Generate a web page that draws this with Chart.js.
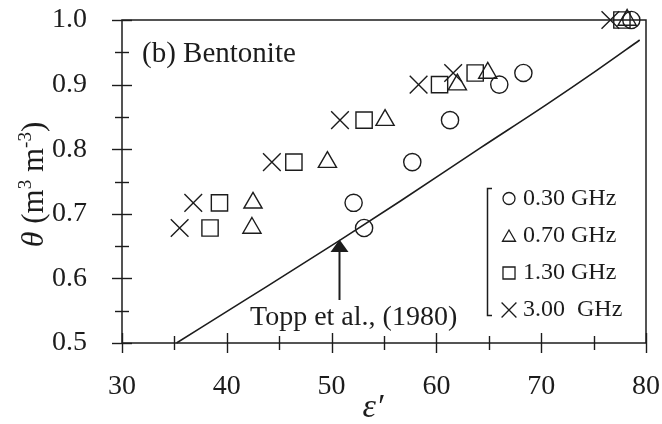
<!DOCTYPE html>
<html>
<head>
<meta charset="utf-8">
<script src="https://cdn.jsdelivr.net/npm/chart.js@4/dist/chart.umd.min.js"></script>
<style>
html,body{margin:0;padding:0;background:#fff;}
#wrap{width:662px;height:424px;position:relative;}
</style>
</head>
<body>
<div id="wrap"><canvas id="c" width="662" height="424"></canvas></div>
<script>
// ---- data ----
const seriesLabels = ['0.30 GHz', '0.70 GHz', '1.30 GHz', '3.00  GHz'];
const theta = [0.678, 0.717, 0.780, 0.845, 0.900, 0.918, 1.000];
const eps030 = [53.1, 52.1, 57.7, 61.3, 66.0, 68.3, 78.6];
const eps070 = [42.4, 42.5, 49.6, 55.1, 62.0, 64.9, 78.2];
const eps130 = [38.4, 39.3, 46.4, 53.1, 60.3, 63.7, 77.7];
const eps300 = [35.5, 36.8, 44.3, 50.8, 58.3, 61.6, 76.6];
const toppEps = [35.2, 42.0, 50.7, 56.5, 64.2, 70.5, 75.3, 79.4];
const toppTheta = [0.500, 0.569, 0.658, 0.719, 0.802, 0.869, 0.922, 0.969];
const xTicks = [30, 40, 50, 60, 70, 80];
const yTicks = [0.5, 0.6, 0.7, 0.8, 0.9, 1.0];
const panelTitle = '(b) Bentonite';
const toppLabel = 'Topp et al., (1980)';

const INK = '#1c1c1c';
const SERIF = '"Liberation Serif", "DejaVu Serif", serif';

function pts(xs, ys) { return xs.map((x, i) => ({x: x, y: ys[i]})); }

const styles = [
  {pointStyle: 'circle', radius: 8.6, lr: 6},
  {pointStyle: 'triangle', radius: 10.5, lr: 7.5},
  {pointStyle: 'rect', radius: 11.5, lr: 8.5},
  {pointStyle: 'crossRot', radius: 12.5, lr: 10.5}
];
const epsSeries = [eps030, eps070, eps130, eps300];

const datasets = epsSeries.map((e, i) => ({
  type: 'scatter',
  label: seriesLabels[i],
  data: pts(e, theta),
  pointStyle: styles[i].pointStyle,
  pointRadius: styles[i].radius,
  pointHoverRadius: styles[i].radius,
  pointBorderWidth: 1.4,
  pointBorderColor: INK,
  pointBackgroundColor: 'rgba(0,0,0,0)',
  showLine: false,
  clip: false
}));
datasets.push({
  type: 'line',
  label: toppLabel,
  data: pts(toppEps, toppTheta),
  borderColor: INK,
  borderWidth: 1.6,
  pointRadius: 0,
  cubicInterpolationMode: 'monotone',
  fill: false,
  clip: false
});

const decor = {
  id: 'decor',
  afterDraw(chart) {
    const ctx = chart.ctx;
    const a = chart.chartArea;
    const xs = chart.scales.x, ys = chart.scales.y;
    ctx.save();
    ctx.strokeStyle = INK;
    ctx.fillStyle = INK;
    // frame
    ctx.lineWidth = 1.5;
    ctx.strokeRect(a.left, a.top, a.right - a.left, a.bottom - a.top);
    // x ticks (major every 10, minor every 5), crossing the axis
    ctx.lineWidth = 1.4;
    for (let v = 30; v <= 80; v += 5) {
      const px = Math.round(xs.getPixelForValue(v)) + 0.5;
      const major = v % 10 === 0;
      const L = major ? 10 : 7;
      ctx.beginPath();
      ctx.moveTo(px, a.bottom - L);
      ctx.lineTo(px, a.bottom + L);
      ctx.stroke();
    }
    // y ticks
    for (let k = 0; k <= 10; k++) {
      const v = 0.5 + k * 0.05;
      const py = Math.round(ys.getPixelForValue(v)) + 0.5;
      const major = k % 2 === 0;
      const L = major ? 10 : 7;
      ctx.beginPath();
      ctx.moveTo(a.left - L, py);
      ctx.lineTo(a.left + L, py);
      ctx.stroke();
    }
    // panel title
    ctx.font = '29px ' + SERIF;
    ctx.textBaseline = 'alphabetic';
    ctx.textAlign = 'left';
    ctx.fillText(panelTitle, 142, 62);
    // Topp label
    ctx.font = '28px ' + SERIF;
    ctx.fillText(toppLabel, 250, 325);
    // arrow
    const ax = Math.round(xs.getPixelForValue(50.7)) + 0.5;
    const tipY = 239.5;
    ctx.lineWidth = 2;
    ctx.beginPath();
    ctx.moveTo(ax, 300);
    ctx.lineTo(ax, tipY + 10);
    ctx.stroke();
    ctx.beginPath();
    ctx.moveTo(ax, tipY);
    ctx.lineTo(ax - 9, tipY + 12.5);
    ctx.lineTo(ax + 9, tipY + 12.5);
    ctx.closePath();
    ctx.fill();
    // legend bracket
    ctx.lineWidth = 1.5;
    ctx.beginPath();
    ctx.moveTo(492, 188.5);
    ctx.lineTo(487.5, 188.5);
    ctx.lineTo(487.5, 315.5);
    ctx.lineTo(492, 315.5);
    ctx.stroke();
    // legend entries
    const rowsY = [198.5, 236, 273, 310];
    rowsY.forEach((y, i) => {
      ctx.lineWidth = 1.3;
      ctx.fillStyle = 'rgba(0,0,0,0)';
      Chart.helpers.drawPoint(ctx, {pointStyle: styles[i].pointStyle, radius: styles[i].lr, rotation: 0, borderWidth: 1.3}, 509, y + (i === 1 ? 1.5 : 0));
      ctx.fillStyle = INK;
      ctx.font = '24px ' + SERIF;
      ctx.textBaseline = 'middle';
      ctx.textAlign = 'left';
      ctx.fillText(seriesLabels[i], 523, y);
    });
    // y axis title (rotated)
    ctx.save();
    ctx.translate(33, (a.top + a.bottom) / 2 + 3);
    ctx.rotate(-Math.PI / 2);
    const segs = [
      {t: 'θ', f: 'italic 32px ' + SERIF, dy: 0},
      {t: ' (m', f: '31px ' + SERIF, dy: 0},
      {t: '3', f: '19px ' + SERIF, dy: -12},
      {t: ' m', f: '31px ' + SERIF, dy: 0},
      {t: '-3', f: '19px ' + SERIF, dy: -12},
      {t: ')', f: '31px ' + SERIF, dy: 0}
    ];
    let total = 0;
    segs.forEach(s => { ctx.font = s.f; s.w = ctx.measureText(s.t).width; total += s.w; });
    let cx = -total / 2;
    ctx.textBaseline = 'alphabetic';
    ctx.textAlign = 'left';
    segs.forEach(s => { ctx.font = s.f; ctx.fillText(s.t, cx, 10 + s.dy); cx += s.w; });
    ctx.restore();
    // x axis title
    ctx.font = 'italic 34px ' + SERIF;
    ctx.textAlign = 'center';
    ctx.textBaseline = 'alphabetic';
    ctx.fillText('ε′', 373, 417);
    ctx.restore();
  }
};

new Chart(document.getElementById('c'), {
  data: {datasets: datasets},
  options: {
    responsive: false,
    animation: false,
    devicePixelRatio: 1,
    layout: {padding: {left: 0, top: 20, right: 16, bottom: 0}},
    plugins: {legend: {display: false}, tooltip: {enabled: false}, title: {display: false}},
    scales: {
      x: {
        type: 'linear', min: 30, max: 80,
        afterFit(s) { s.height = 81; s.paddingLeft = 0; s.paddingRight = 0; },
        afterBuildTicks(s) { s.ticks = xTicks.map(v => ({value: v})); },
        grid: {display: false, drawTicks: false},
        border: {display: false},
        ticks: {font: {family: SERIF, size: 28}, color: INK, padding: 27, maxRotation: 0}
      },
      y: {
        type: 'linear', min: 0.5, max: 1.0,
        afterFit(s) { s.width = 122; s.paddingTop = 0; s.paddingBottom = 0; },
        afterBuildTicks(s) { s.ticks = yTicks.map(v => ({value: v})); },
        grid: {display: false, drawTicks: false},
        border: {display: false},
        ticks: {font: {family: SERIF, size: 28}, color: INK, padding: 35,
          callback: v => v.toFixed(1)}
      }
    }
  },
  plugins: [decor]
});
</script>
</body>
</html>
